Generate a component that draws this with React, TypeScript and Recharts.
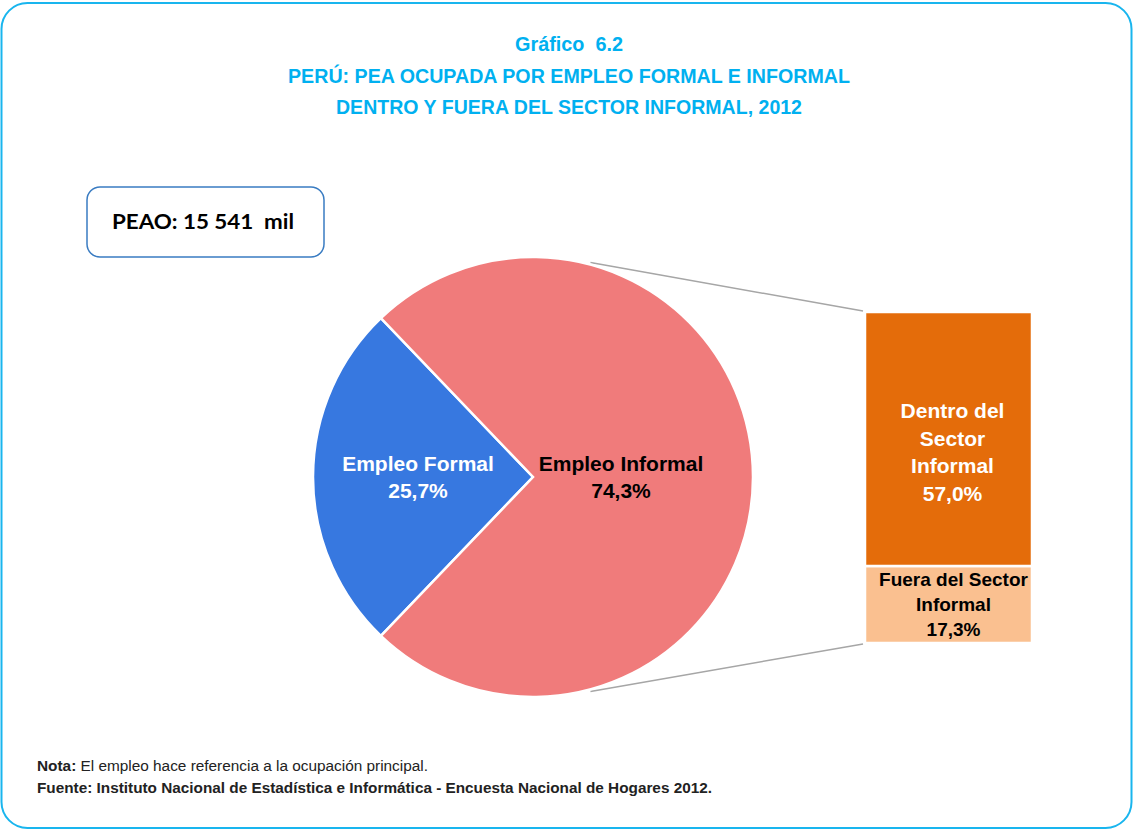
import React from 'react';
import { PieChart, Pie, Cell, BarChart, Bar, XAxis, YAxis, LabelList } from 'recharts';

// ---------- data ----------
const PIE_CATEGORIES = ['Empleo Formal', 'Empleo Informal'];
const PIE_VALUES = [25.7, 74.3];
const BAR_CATEGORY = 'Empleo Informal';
const BAR_SEGMENTS = ['Fuera del Sector Informal', 'Dentro del Sector Informal'];
const BAR_VALUES = [17.3, 57.0];
const BAR_LABEL_LINES = [['Fuera del Sector', 'Informal'], ['Dentro del', 'Sector', 'Informal']];
const TITLE_LINES = ['Gráfico  6.2', 'PERÚ: PEA OCUPADA POR EMPLEO FORMAL E INFORMAL', 'DENTRO Y FUERA DEL SECTOR INFORMAL, 2012'];
const PEAO_TEXT = 'PEAO: 15 541  mil';
const NOTE_LABEL = 'Nota:';
const NOTE_TEXT = ' El empleo hace referencia a la ocupación principal.';
const SOURCE_TEXT = 'Fuente: Instituto Nacional de Estadística e Informática - Encuesta Nacional de Hogares 2012.';

// ---------- styles ----------
const W = 1133;
const H = 830;
const NARROW = "'Liberation Sans Narrow', 'Arial Narrow', 'Liberation Sans', Arial, sans-serif";
const TITLE_COLOR = '#00B0F0';
const TITLE_WIDTHS = [108, 562, 466];
const PIE_COLORS = ['#3778E0', '#F07B7B'];
const PIE_TEXT_COLORS = ['#FFFFFF', '#000000'];
const BAR_COLORS = ['#FAC090', '#E46C0A'];
const BAR_TEXT_COLORS = ['#000000', '#FFFFFF'];

const PIE_CX = 533;
const PIE_CY = 477;
const PIE_R = 220;
const LABEL_RADIUS = [115, 88];

const BAR_LEFT = 866;
const BAR_TOP = 313;
const BAR_W = 165;
const BAR_H = 329;

const fmt = (v: number) => v.toFixed(1).replace('.', ',') + '%';

const pieData = PIE_CATEGORIES.map((name, i) => ({ name, value: PIE_VALUES[i] }));
const barRow: Record<string, any> = { name: BAR_CATEGORY };
BAR_SEGMENTS.forEach((s, i) => { barRow[s] = BAR_VALUES[i]; });
const barData = [barRow];
const BAR_TOTAL = BAR_VALUES.reduce((a, b) => a + b, 0);

// pie start so the formal slice is centred on the left (180deg)
const FORMAL_SPAN = (PIE_VALUES[0] / PIE_VALUES.reduce((a, b) => a + b, 0)) * 360;
const START_ANGLE = 180 + FORMAL_SPAN / 2;
const END_ANGLE = START_ANGLE - 360;

const RAD = Math.PI / 180;

const renderPieLabel = (props: any) => {
  const { cx, cy, midAngle, index, value } = props;
  const r = LABEL_RADIUS[index];
  const x = cx + r * Math.cos(-midAngle * RAD);
  const y = cy + r * Math.sin(-midAngle * RAD);
  return (
    <text x={x} y={y} textAnchor="middle" fill={PIE_TEXT_COLORS[index]}
      style={{ fontFamily: NARROW, fontWeight: 700, fontSize: 21 }}>
      <tspan x={x} y={y - 6}>{PIE_CATEGORIES[index]}</tspan>
      <tspan x={x} y={y + 21}>{fmt(value)}</tspan>
    </text>
  );
};

const makeBarLabel = (segIndex: number) => (props: any) => {
  const { x, y, width, height, value } = props;
  const lines = [...BAR_LABEL_LINES[segIndex], fmt(Number(value))];
  const big = segIndex === 1;
  const fs = big ? 21 : 19;
  const lh = big ? 27.7 : 25;
  const cx = x + width / 2 + (big ? 4 : 5);
  const cy = y + height / 2 + (big ? 13 : 0);
  const first = cy - ((lines.length - 1) * lh) / 2;
  return (
    <text textAnchor="middle" fill={BAR_TEXT_COLORS[segIndex]}
      style={{ fontFamily: NARROW, fontWeight: 700, fontSize: fs }}>
      {lines.map((l, i) => (
        <tspan key={i} x={cx} y={first + i * lh} dominantBaseline="central">{l}</tspan>
      ))}
    </text>
  );
};

export default function App() {
  const a = 75 * RAD;
  const topStart = { x: PIE_CX + (PIE_R + 2) * Math.cos(a), y: PIE_CY - (PIE_R + 2) * Math.sin(a) };
  const botStart = { x: PIE_CX + (PIE_R + 2) * Math.cos(a), y: PIE_CY + (PIE_R + 2) * Math.sin(a) };
  return (
    <div style={{ position: 'absolute', left: 0, top: 0, width: W, height: H, background: '#fff', overflow: 'hidden' }}>
      <svg width={W} height={H} style={{ position: 'absolute', left: 0, top: 0 }}>
        <rect x={1.5} y={3} width={W - 3} height={H - 5} rx={26} ry={26} fill="#fff" stroke="#19B5EE" strokeWidth={2} />
        {TITLE_LINES.map((t, i) => (
          <text key={i} x={569} y={51 + i * 31.5} textAnchor="middle" fill={TITLE_COLOR}
            textLength={TITLE_WIDTHS[i]} lengthAdjust="spacingAndGlyphs"
            style={{ fontFamily: NARROW, fontWeight: 700, fontSize: 20.5, whiteSpace: 'pre' }}>{t}</text>
        ))}
        <rect x={87} y={187} width={237} height={70} rx={13} ry={13} fill="#fff" stroke="#3A7CC2" strokeWidth={1.5} />
        <text x={112} y={229} fill="#000" style={{ fontFamily: "Lato, 'Open Sans', sans-serif", fontWeight: 700, fontSize: 21, whiteSpace: 'pre' }}
          textLength={182} lengthAdjust="spacingAndGlyphs">{PEAO_TEXT}</text>
        <line x1={topStart.x} y1={topStart.y} x2={BAR_LEFT - 3} y2={BAR_TOP - 2} stroke="#A6A6A6" strokeWidth={1.5} />
        <line x1={botStart.x} y1={botStart.y} x2={BAR_LEFT - 3} y2={BAR_TOP + BAR_H + 2} stroke="#A6A6A6" strokeWidth={1.5} />
        <text x={37} y={771} fill="#222" textLength={391} lengthAdjust="spacingAndGlyphs"
          style={{ fontFamily: NARROW, fontSize: 15.5, whiteSpace: 'pre' }}>
          <tspan fontWeight={700}>{NOTE_LABEL}</tspan><tspan>{NOTE_TEXT}</tspan>
        </text>
        <text x={37} y={793} fill="#222" textLength={675} lengthAdjust="spacingAndGlyphs"
          style={{ fontFamily: NARROW, fontSize: 15.5, fontWeight: 700 }}>{SOURCE_TEXT}</text>
      </svg>

      <div style={{ position: 'absolute', left: 0, top: 0 }}>
        <PieChart width={W} height={H} margin={{ top: 0, right: 0, bottom: 0, left: 0 }}>
          <Pie data={pieData} dataKey="value" nameKey="name" cx={PIE_CX} cy={PIE_CY} outerRadius={PIE_R}
            startAngle={START_ANGLE} endAngle={END_ANGLE} stroke="#fff" strokeWidth={2.5}
            isAnimationActive={false} label={renderPieLabel} labelLine={false}>
            {pieData.map((d, i) => <Cell key={d.name} fill={PIE_COLORS[i]} />)}
          </Pie>
        </PieChart>
      </div>

      <div style={{ position: 'absolute', left: BAR_LEFT - 1, top: BAR_TOP - 1 }}>
        <BarChart width={BAR_W + 2} height={BAR_H + 2} data={barData} barCategoryGap={0}
          margin={{ top: 0, right: 0, bottom: 0, left: 0 }}>
          <XAxis dataKey="name" hide />
          <YAxis hide domain={[0, BAR_TOTAL]} />
          {BAR_SEGMENTS.map((s, i) => (
            <Bar key={s} dataKey={s} stackId="a" fill={BAR_COLORS[i]} stroke="#fff" strokeWidth={2.5} isAnimationActive={false}>
              <LabelList dataKey={s} content={makeBarLabel(i)} />
            </Bar>
          ))}
        </BarChart>
      </div>
    </div>
  );
}
